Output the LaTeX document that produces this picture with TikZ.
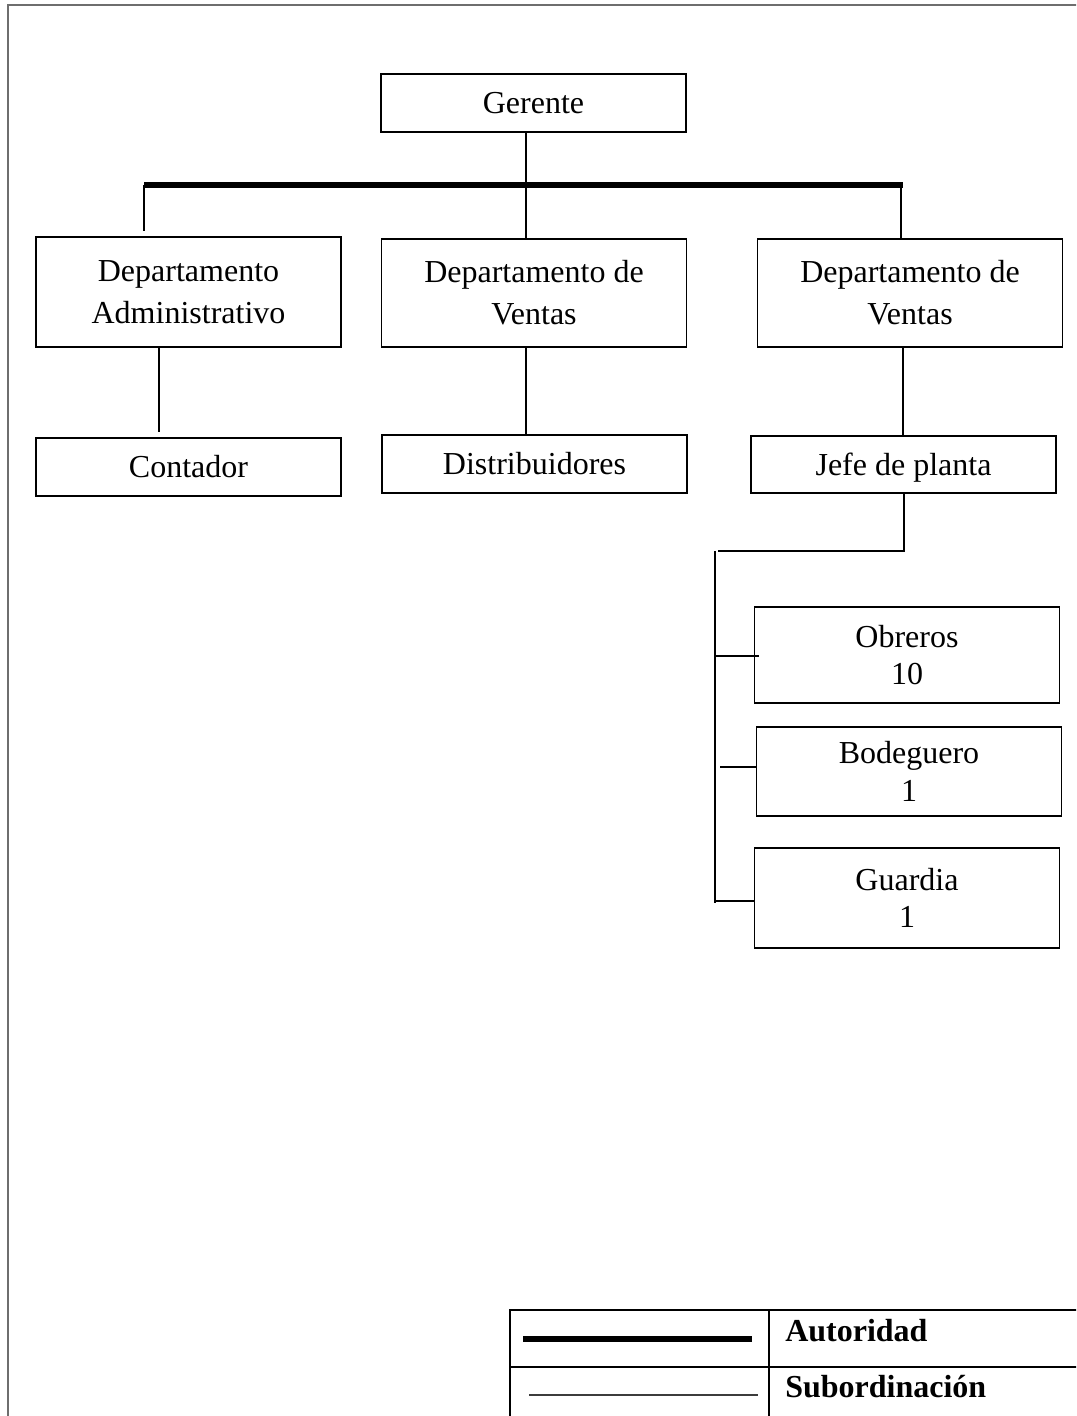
\documentclass[tikz,border=0pt]{standalone}
\usepackage{fontspec}
\setmainfont{Liberation Serif}
\definecolor{framegray}{RGB}{110,110,110}
\definecolor{subgray}{RGB}{60,60,60}
\begin{document}
\begin{tikzpicture}[x=0.75pt,y=-0.75pt,
  box/.style={draw, line width=1.1pt, inner sep=0pt, minimum width=228.5pt, align=center,
    font=\fontsize{24pt}{31.5pt}\selectfont},
  sbox/.style={box, font=\fontsize{24pt}{28pt}\selectfont},
  sub/.style={line width=1.1pt},
  auth/.style={line width=4.2pt, line cap=butt},
  legtext/.style={anchor=west, inner sep=0pt, font=\fontsize{24pt}{28pt}\selectfont\bfseries}]
\useasboundingbox (0,0) rectangle (1076,1416);
\clip (0,0) rectangle (1076,1416);
% outer frame
\draw[framegray, line width=1.3pt] (8,1430) -- (8,5) -- (1090,5);

% nodes
\node[box, minimum height=43.5pt] (ger) at (533.5,103) {Gerente};
\node[box, minimum height=82.5pt] (d1) at (188.5,292) {Departamento\\Administrativo};
\node[box, minimum height=81pt] (d2) at (534,293) {Departamento de\\Ventas};
\node[box, minimum height=81pt] (d3) at (910,293) {Departamento de\\Ventas};
\node[box, minimum height=43.5pt] (cont) at (188.5,467) {Contador};
\node[box, minimum height=43.5pt] (dist) at (534.5,464) {Distribuidores};
\node[box, minimum height=42.75pt, text depth=0pt] (jefe) at (903.5,464.5) {Jefe de planta};
\node[sbox, minimum height=72pt] (obr) at (907,655) {Obreros\\10};
\node[sbox, minimum height=66.75pt] (bod) at (909,771.5) {Bodeguero\\1};
\node[sbox, minimum height=75pt] (gua) at (907,898) {Guardia\\1};

% joints
\coordinate (barL) at (144,185);
\coordinate (barR) at (903,185);
\coordinate (d1end) at (144,231);
\coordinate (contend) at (159,432);
\coordinate (jj) at (904,551);
\coordinate (spineTop) at (715,551);
\coordinate (spineBot) at (715,903);
\coordinate (hTop) at (718,551);
\coordinate (bodStart) at (720,767);

% authority bar
\draw[auth] (barL) -- (barR);
% subordination connectors
\draw[sub] (ger.south -| 526,0) -- (d2.north -| 526,0);
\draw[sub] (barL) -- (d1end);
\draw[sub] (901,187) -- (d3.north -| 901,0);
\draw[sub] (d1.south -| 159,0) -- (contend);
\draw[sub] (d2.south -| 526,0) -- (dist.north -| 526,0);
\draw[sub] (d3.south -| 903,0) -- (jefe.north -| 903,0);
\draw[sub] (jefe.south -| jj) -- (jj) -- (hTop);
\draw[sub] (spineTop) -- (spineBot);
\draw[sub] (spineTop |- 656,656) -- (obr.west |- 656,656) -- ++(5,0);
\draw[sub] (bodStart) -- (bod.west |- 0,767);
\draw[sub] (spineTop |- 0,901) -- (gua.west |- 0,901);

% legend table
\coordinate (tl) at (510,1310);
\draw[line width=1.5pt] (510,1430) -- (tl) -- (1090,1310);
\draw[line width=1.5pt] (510,1367) -- (1090,1367);
\draw[line width=1.5pt] (769,1310) -- (769,1430);
\coordinate (la1) at (523,1339);
\coordinate (la2) at (752,1339);
\coordinate (ls1) at (529,1395);
\coordinate (ls2) at (758,1395);
\draw[auth, line width=4pt] (la1) -- (la2);
\draw[subgray, line width=1.4pt] (ls1) -- (ls2);
\node[legtext] (autor) at (785,1331) {Autoridad};
\node[legtext] (subor) at (785,1387) {Subordinación};
\end{tikzpicture}
\end{document}
